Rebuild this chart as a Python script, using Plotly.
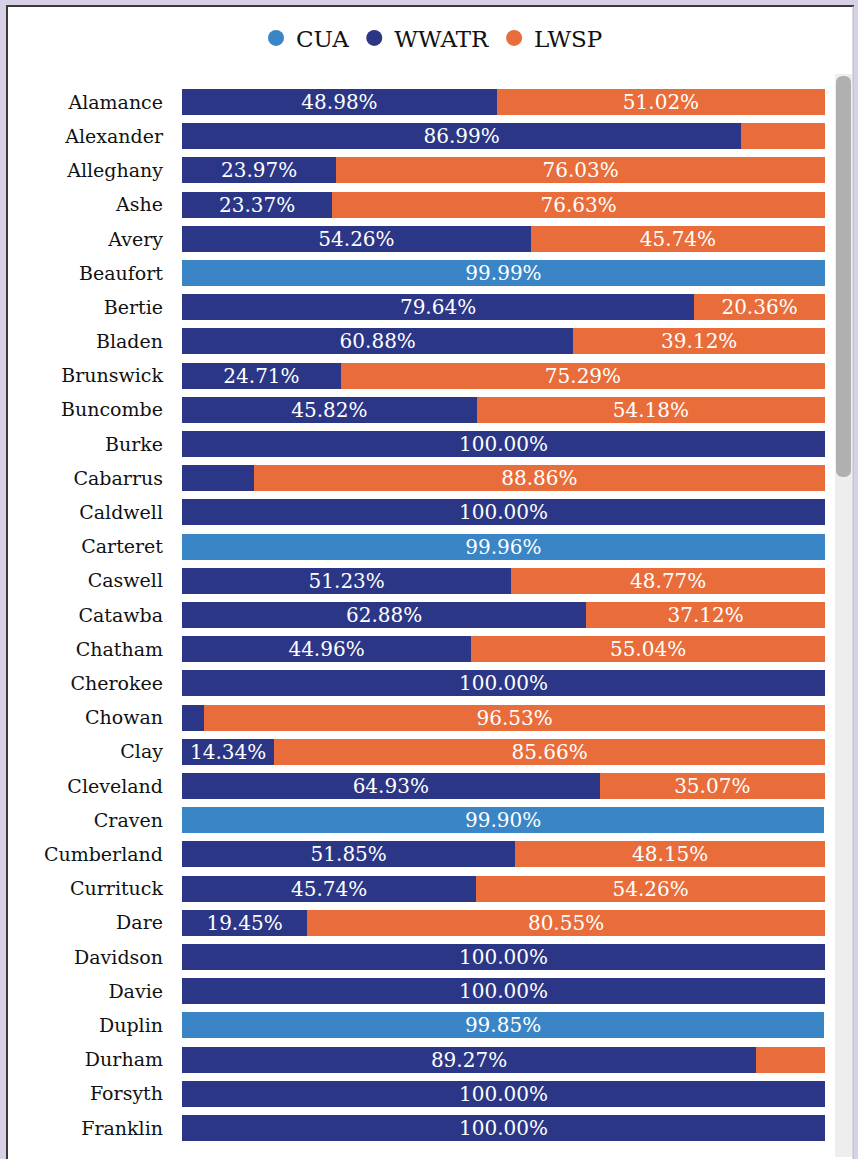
import plotly.graph_objects as go

counties = ["Alamance", "Alexander", "Alleghany", "Ashe", "Avery", "Beaufort", "Bertie",
            "Bladen", "Brunswick", "Buncombe", "Burke", "Cabarrus", "Caldwell", "Carteret",
            "Caswell", "Catawba", "Chatham", "Cherokee", "Chowan", "Clay", "Cleveland",
            "Craven", "Cumberland", "Currituck", "Dare", "Davidson", "Davie", "Duplin",
            "Durham", "Forsyth", "Franklin"]
cua = [0, 0, 0, 0, 0, 99.99, 0, 0, 0, 0, 0, 0, 0, 99.96, 0, 0, 0, 0, 0, 0, 0,
       99.90, 0, 0, 0, 0, 0, 99.85, 0, 0, 0]
wwatr = [48.98, 86.99, 23.97, 23.37, 54.26, 0, 79.64, 60.88, 24.71, 45.82, 100.00,
         11.14, 100.00, 0, 51.23, 62.88, 44.96, 100.00, 3.47, 14.34, 64.93, 0,
         51.85, 45.74, 19.45, 100.00, 100.00, 0, 89.27, 100.00, 100.00]
lwsp = [51.02, 13.01, 76.03, 76.63, 45.74, 0, 20.36, 39.12, 75.29, 54.18, 0,
        88.86, 0, 0, 48.77, 37.12, 55.04, 0, 96.53, 85.66, 35.07, 0,
        48.15, 54.26, 80.55, 0, 0, 0, 10.73, 0, 0]

series = [("CUA", cua, "#3a85c5"), ("WWATR", wwatr, "#2b3686"), ("LWSP", lwsp, "#e96d3a")]

FONT = "DejaVu Serif, Liberation Serif, serif"
W, H = 858, 1159
L, R, T, B = 182, 33, 85, 14
pw, ph = W - L - R, H - T - B


def px(x):
    return (x - L) / pw


def py(y):
    return 1 - (y - T) / ph


fig = go.Figure()
for name, vals, col in series:
    txt = [f"{v:.2f}%" if v >= 13.5 else "" for v in vals]
    fig.add_trace(go.Bar(
        y=counties, x=vals, orientation="h", name=name, marker=dict(color=col, line=dict(width=0)),
        text=txt, texttemplate="%{text}", textposition="inside", insidetextanchor="middle",
        textangle=0, textfont=dict(color="white", size=20, family=FONT),
        showlegend=False, hoverinfo="x+y"))
    fig.add_trace(go.Scatter(
        x=[None], y=[None], mode="markers", name=name,
        marker=dict(color=col, size=17, symbol="circle"), showlegend=True))

shapes = [
    dict(type="rect", xref="paper", yref="paper", x0=px(7), x1=px(853), y0=py(1165), y1=py(5),
         fillcolor="white", line=dict(width=0), layer="below"),
    dict(type="line", xref="paper", yref="paper", x0=px(7), x1=px(7), y0=py(1165), y1=py(5),
         line=dict(color="#3a3a3a", width=2)),
    dict(type="line", xref="paper", yref="paper", x0=px(6), x1=px(854), y0=py(6), y1=py(6),
         line=dict(color="#3a3a3a", width=2)),
    dict(type="line", xref="paper", yref="paper", x0=px(853), x1=px(853), y0=py(1165), y1=py(6),
         line=dict(color="#b8b8b8", width=1)),
    dict(type="rect", xref="paper", yref="paper", x0=px(835), x1=px(852), y0=py(1157), y1=py(74),
         fillcolor="#eeeeee", line=dict(width=0)),
]
# rounded scrollbar thumb
x0, x1, y0, y1, r = 836, 851, 76, 477, 7
path = (f"M {px(x0)} {py(y0 + r)} Q {px(x0)} {py(y0)} {px(x0 + r)} {py(y0)} "
        f"L {px(x1 - r)} {py(y0)} Q {px(x1)} {py(y0)} {px(x1)} {py(y0 + r)} "
        f"L {px(x1)} {py(y1 - r)} Q {px(x1)} {py(y1)} {px(x1 - r)} {py(y1)} "
        f"L {px(x0 + r)} {py(y1)} Q {px(x0)} {py(y1)} {px(x0)} {py(y1 - r)} Z")
shapes.append(dict(type="path", xref="paper", yref="paper", path=path,
                   fillcolor="#b0b0b0", line=dict(width=0)))

fig.update_layout(
    width=W, height=H, barmode="stack", bargap=0.24,
    margin=dict(l=L, r=R, t=T, b=B, pad=0),
    paper_bgcolor="#d8d0e6", plot_bgcolor="white",
    font=dict(family=FONT, color="#111111"),
    uniformtext=dict(minsize=20, mode="show"),
    legend=dict(orientation="h", x=px(432), xanchor="center", y=py(38), yanchor="middle",
                font=dict(size=23, family=FONT, color="#111111"), itemwidth=30,
                bgcolor="rgba(0,0,0,0)", traceorder="normal", itemclick=False),
    xaxis=dict(range=[0, 100], showgrid=False, showticklabels=False, zeroline=False,
               showline=False, fixedrange=True),
    yaxis=dict(autorange="reversed", showgrid=False, ticks="", ticklabelstandoff=18,
               tickfont=dict(size=19, family=FONT, color="#111111"), showline=False),
    shapes=shapes,
)

fig.write_html("out.html", config={"displayModeBar": False},
               post_script="document.body.style.margin='0';document.body.style.background='#d8d0e6';")
